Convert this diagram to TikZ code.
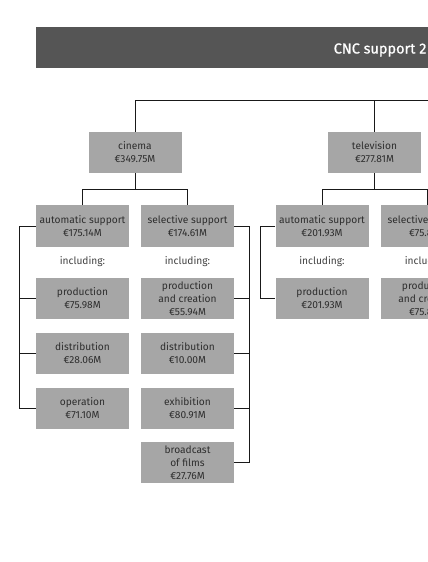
\documentclass[tikz,border=0pt]{standalone}
\usepackage{fontspec}
\setmainfont{Fira Sans}
\newfontfamily\titlefont{Fira Sans}[FakeBold=0.7]
\definecolor{boxgray}{HTML}{A6A6A6}
\definecolor{boxtext}{HTML}{2E2E2E}
\definecolor{headgray}{HTML}{555555}
\definecolor{incl}{HTML}{404040}
\begin{document}
\begin{tikzpicture}[x=1pt,y=-1pt,
  box/.style={fill=boxgray,text=boxtext,minimum width=93pt,minimum height=41.5pt,inner sep=0pt,align=center,font=\fontsize{10.2}{13}\selectfont},
  incltext/.style={text=incl,inner sep=0pt,font=\fontsize{10.2}{13}\selectfont},
  conn/.style={draw=black!90,line width=0.9pt}]
\useasboundingbox (0,0) rectangle (428,562);
\clip (0,0) rectangle (428,562);
% header
\fill[headgray] (36,27) rectangle (460,68);
\node[anchor=base west,text=white,inner sep=0pt,font=\titlefont\fontsize{14.5}{16}\selectfont] (title) at (333.5,53.5) {CNC support 2};
% level 1
\node[box] (cin) at (135,152.5) {cinema\\€349.75M};
\node[box] (tv) at (374.5,152.5) {television\\€277.81M};
% cinema level 2
\node[box] (ca) at (82.5,226) {automatic support\\€175.14M};
\node[box] (cs) at (187.5,226) {selective support\\€174.61M};
\node[incltext] (cai) at (82.5,262) {including:};
\node[incltext] (csi) at (187.5,262) {including:};
\node[box] (cap) at (82.5,298.5) {production\\€75.98M};
\node[box] (cad) at (82.5,353.5) {distribution\\€28.06M};
\node[box] (cao) at (82.5,408.5) {operation\\€71.10M};
\node[box] (csp) at (187.5,298.5) {production\\and creation\\€55.94M};
\node[box] (csd) at (187.5,353.5) {distribution\\€10.00M};
\node[box] (cse) at (187.5,408.5) {exhibition\\€80.91M};
\node[box] (csb) at (187.5,462.5) {broadcast\\of films\\€27.76M};
% television level 2
\node[box] (ta) at (322,226) {automatic support\\€201.93M};
\node[box] (ts) at (427.5,226) {selective support\\€75.88M};
\node[incltext] (tai) at (322,262) {including:};
\node[incltext] (tsi) at (427.5,262) {including:};
\node[box] (tap) at (322,298.5) {production\\€201.93M};
\node[box] (tsp) at (427.5,298.5) {production\\and creation\\€75.88M};
% connector coordinates
\coordinate (topR) at (470,100);
\coordinate (cj) at (135,189.5);
\coordinate (tj) at (374.5,189.5);
\coordinate (lbar) at (19.5,0);
\coordinate (rbar) at (249.5,0);
\coordinate (tbar) at (260.5,0);
% connectors
\draw[conn] (cin.north) |- (topR);
\draw[conn] (tv.north) -- (tv.north |- topR);
\draw[conn] (cin.south) -- (cj);
\draw[conn] (ca.north) |- (cj) -| (cs.north);
\draw[conn] (tv.south) -- (tj);
\draw[conn] (ta.north) |- (tj) -| (ts.north);
\draw[conn] (ca.west) -- (ca.west -| lbar) |- (cao.west);
\draw[conn] (cap.west) -- (cap.west -| lbar);
\draw[conn] (cad.west) -- (cad.west -| lbar);
\draw[conn] (cs.east) -- (cs.east -| rbar) |- (csb.east);
\draw[conn] (csp.east) -- (csp.east -| rbar);
\draw[conn] (csd.east) -- (csd.east -| rbar);
\draw[conn] (cse.east) -- (cse.east -| rbar);
\draw[conn] (ta.west) -- (ta.west -| tbar) |- (tap.west);
\end{tikzpicture}
\end{document}
